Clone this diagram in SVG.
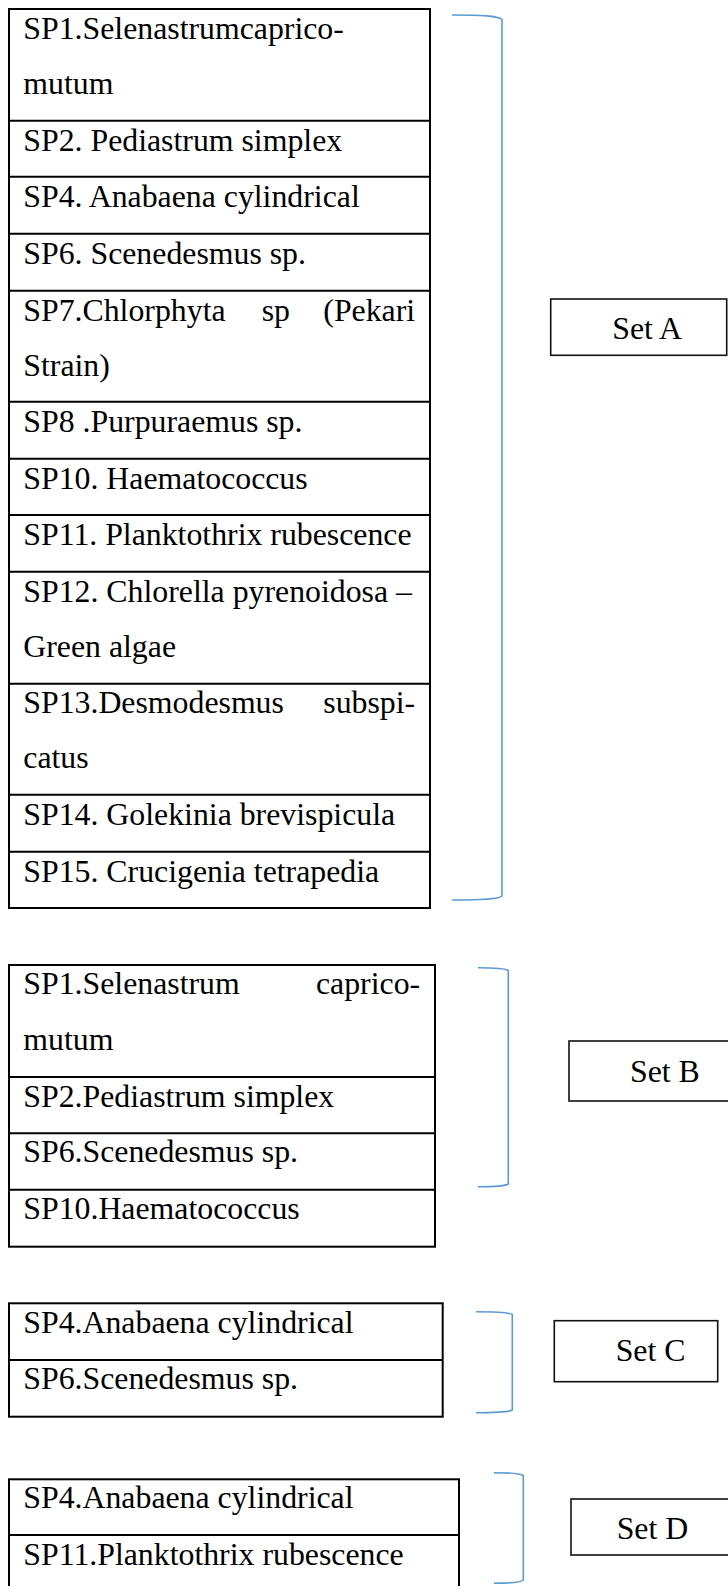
<svg xmlns="http://www.w3.org/2000/svg" width="728" height="1586" viewBox="0 0 728 1586">
<style>
.tbl{fill:none;stroke:#000;stroke-width:2}
.sep{stroke:#000;stroke-width:2}
.box{fill:#fff;stroke:#111;stroke-width:1.6}
.br{fill:none;stroke:#5B9BD5;stroke-width:1.6}
text{font-family:"Liberation Serif","Times New Roman",serif;font-size:31.8px;fill:#000}
</style>
<rect width="728" height="1586" fill="#fff"/>
<g id="connectors">
<path class="br" d="M452,15 C480,15 498,15.5 502,19.5 L502,896 C498,899.5 480,900 452,900"/>
<path class="br" d="M478,967.7 C495,967.7 505,968 508.3,970.5 L508.3,1184 C505,1186.3 495,1186.7 478,1186.7"/>
<path class="br" d="M476,1311.7 C495,1311.7 509,1312 512.3,1314.5 L512.3,1410 C509,1412.3 495,1412.7 476,1412.7"/>
<path class="br" d="M494,1472.7 C508,1472.7 520,1473 523.3,1475.5 L523.3,1580 C520,1583 508,1583.3 494,1583.3"/>
</g>
<g id="setA-list">
<rect class="tbl" x="9" y="9" width="421" height="899"/>
<line class="sep" x1="9" y1="120.7" x2="430" y2="120.7"/>
<line class="sep" x1="9" y1="176.7" x2="430" y2="176.7"/>
<line class="sep" x1="9" y1="233.7" x2="430" y2="233.7"/>
<line class="sep" x1="9" y1="290.7" x2="430" y2="290.7"/>
<line class="sep" x1="9" y1="401.7" x2="430" y2="401.7"/>
<line class="sep" x1="9" y1="458.7" x2="430" y2="458.7"/>
<line class="sep" x1="9" y1="515" x2="430" y2="515"/>
<line class="sep" x1="9" y1="571.7" x2="430" y2="571.7"/>
<line class="sep" x1="9" y1="683.7" x2="430" y2="683.7"/>
<line class="sep" x1="9" y1="794.7" x2="430" y2="794.7"/>
<line class="sep" x1="9" y1="851.7" x2="430" y2="851.7"/>
<text x="23.3" y="39">SP1.Selenastrumcaprico-</text>
<text x="23.3" y="94">mutum</text>
<text x="23.3" y="151">SP2. Pediastrum simplex</text>
<text x="23.3" y="207">SP4. Anabaena cylindrical</text>
<text x="23.3" y="264">SP6. Scenedesmus sp.</text>
<text x="23.3" y="321">SP7.Chlorphyta</text>
<text x="261.7" y="321">sp</text>
<text x="323.3" y="321">(Pekari</text>
<text x="23.3" y="376">Strain)</text>
<text x="23.3" y="432">SP8 .Purpuraemus sp.</text>
<text x="23.3" y="489">SP10. Haematococcus</text>
<text x="23.3" y="545">SP11. Planktothrix rubescence</text>
<text x="23.3" y="602">SP12. Chlorella pyrenoidosa –</text>
<text x="23.3" y="657">Green algae</text>
<text x="23.3" y="713">SP13.Desmodesmus</text>
<text x="323.3" y="713">subspi-</text>
<text x="23.3" y="768">catus</text>
<text x="23.3" y="825">SP14. Golekinia brevispicula</text>
<text x="23.3" y="882">SP15. Crucigenia tetrapedia</text>
</g>
<g id="setA-label">
<rect class="box" x="550.7" y="299" width="176" height="56.3"/>
<text x="612.3" y="339.3">Set A</text>
</g>
<g id="setB-list">
<rect class="tbl" x="9" y="965" width="426" height="281.7"/>
<line class="sep" x1="9" y1="1077" x2="435" y2="1077"/>
<line class="sep" x1="9" y1="1133.3" x2="435" y2="1133.3"/>
<line class="sep" x1="9" y1="1189.7" x2="435" y2="1189.7"/>
<text x="23.3" y="994.3">SP1.Selenastrum</text>
<text x="316" y="994.3">caprico-</text>
<text x="23.3" y="1050">mutum</text>
<text x="23.3" y="1106.7">SP2.Pediastrum simplex</text>
<text x="23.3" y="1162.3">SP6.Scenedesmus sp.</text>
<text x="23.3" y="1219.3">SP10.Haematococcus</text>
</g>
<g id="setB-label">
<rect class="box" x="569" y="1041" width="170" height="60"/>
<text x="630" y="1081.7">Set B</text>
</g>
<g id="setC-list">
<rect class="tbl" x="9" y="1303.3" width="433.7" height="113.4"/>
<line class="sep" x1="9" y1="1360" x2="442.7" y2="1360"/>
<text x="23.3" y="1332.7">SP4.Anabaena cylindrical</text>
<text x="23.3" y="1389.3">SP6.Scenedesmus sp.</text>
</g>
<g id="setC-label">
<rect class="box" x="554.3" y="1320.7" width="163.4" height="61"/>
<text x="615.7" y="1361">Set C</text>
</g>
<g id="setD-list">
<rect class="tbl" x="9" y="1479.3" width="450" height="120"/>
<line class="sep" x1="9" y1="1535" x2="459" y2="1535"/>
<text x="23.3" y="1508.3">SP4.Anabaena cylindrical</text>
<text x="23.3" y="1565">SP11.Planktothrix rubescence</text>
</g>
<g id="setD-label">
<rect class="box" x="571" y="1499" width="170" height="56"/>
<text x="616.7" y="1539">Set D</text>
</g>
</svg>
